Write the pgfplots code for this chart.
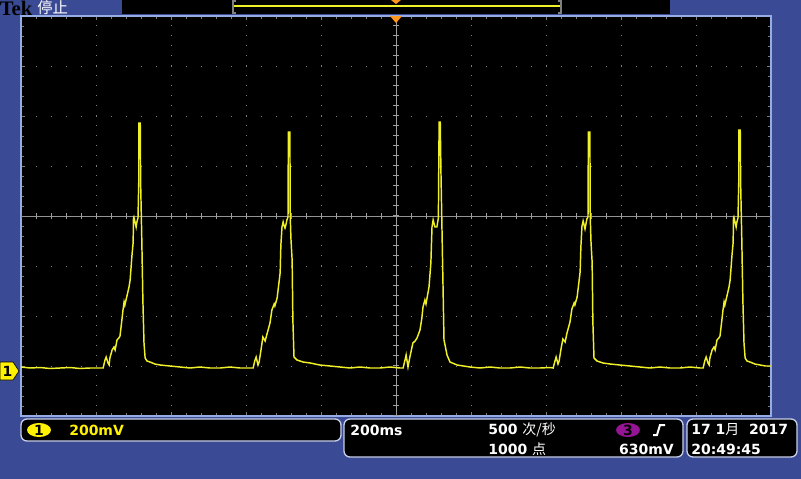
\documentclass[border=0pt]{standalone}
\usepackage{fontspec}
\usepackage{pgfplots}
\pgfplotsset{compat=1.18}
\setmainfont{DejaVu Sans}
\newfontfamily\cjk{Noto Sans CJK SC}
\newfontfamily\tekfont{Liberation Serif}

\definecolor{tekblue}{RGB}{59,74,148}
\definecolor{frame}{RGB}{150,172,228}
\definecolor{gridc}{RGB}{125,125,125}
\definecolor{trace}{RGB}{240,240,40}
\definecolor{trig}{RGB}{255,150,30}
\definecolor{ch3}{RGB}{150,20,150}
\definecolor{boxline}{RGB}{200,208,232}

\begin{document}
\begin{tikzpicture}[x=0.75pt, y=-0.75pt, every node/.style={inner sep=0pt},
  font=\bfseries\fontsize{10.5}{12}\selectfont]
\fill[tekblue] (0,0) rectangle (801,479);
\useasboundingbox (0,0) rectangle (801,479);

% record view strip at the top
\fill[black] (122,0) rectangle (670,14);
\draw[trace, line width=1pt] (233,6) -- (561,6);
\draw[gray, line width=1.5pt] (236,0.5) -- (233,0.5) -- (233,13) -- (236,13);
\draw[gray, line width=1.5pt] (558,0.5) -- (561,0.5) -- (561,13) -- (558,13);
\fill[trig] (391,0) -- (401,0) -- (396,4) -- cycle;

\node[anchor=west, font=\tekfont\bfseries\fontsize{15.5}{15.5}\selectfont] at (-0.5,8) {Tek};
\node[anchor=west, text=white, font=\cjk\fontsize{11.5}{12}\selectfont] at (37,8) {停止};

\begin{axis}[at={(15.75pt,-312pt)}, anchor=south west, scale only axis,
  width=562.5pt, height=300pt,
  xmin=-1000, xmax=1000, ymin=-176, ymax=1424,
  xtick={-1000,-800,...,1000}, ytick={-176,24,...,1424},
  minor x tick num=4, minor y tick num=4,
  xticklabel=\empty, yticklabel=\empty,
  tick label style={opacity=0},
  tick align=inside, major tick length=3pt, minor tick length=2pt,
  tick style={gridc, line width=0.75pt},
  axis line style={frame, line width=1pt},
  axis background/.style={fill=black},
  grid=major,
  major x grid style={gridc, line width=0.75pt, dash pattern=on 0.75pt off 6.75pt},
  major y grid style={gridc, line width=0.75pt, dash pattern=on 0.75pt off 10.5pt}]
% centre graticule lines
\draw[gray!75, line width=0.75pt] (axis cs:0,-176) -- (axis cs:0,1424);
\draw[gray!85, line width=0.75pt] (axis cs:-1000,624) -- (axis cs:1000,624);
\draw[gray!75, line width=4.5pt, dash pattern=on 0.75pt off 6.75pt] (axis cs:0,-176) -- (axis cs:0,1424);
\draw[gray!75, line width=4.5pt, dash pattern=on 0.75pt off 10.5pt] (axis cs:-1000,624) -- (axis cs:1000,624);

% CH1, time in ms, voltage in mV
\addplot[trace, line width=1.1pt] coordinates {
(-1000,20)(-976,16)(-949,18)(-923,14)(-896,16)(-869,18)(-843,14)(-816,16)(-789,16)(-781,16)
(-776,48)(-773,60)(-768,36)(-765,28)(-763,56)(-757,88)(-752,100)(-749,88)(-744,128)(-739,136)
(-736,144)(-731,208)(-728,248)(-725,280)(-723,268)(-720,288)(-715,320)(-712,340)(-709,368)(-707,408)
(-704,468)(-701,516)(-700,616)(-699,620)(-696,600)(-693,580)(-691,600)(-688,616)(-686,760)(-686,996)
(-682,996)(-681,760)(-678,540)(-675,288)(-672,116)(-669,56)(-664,44)(-656,40)(-643,32)(-629,28)
(-603,24)(-576,20)(-549,16)(-523,20)(-496,16)(-469,16)(-443,20)(-416,16)(-389,16)(-381,16)
(-376,48)(-373,60)(-368,28)(-365,40)(-360,88)(-355,140)(-349,124)(-344,152)(-336,196)(-331,248)
(-325,272)(-323,264)(-317,296)(-309,396)(-307,508)(-304,580)(-301,600)(-299,588)(-296,576)(-293,592)
(-291,608)(-288,620)(-287,960)(-283,960)(-282,620)(-280,528)(-277,448)(-275,208)(-272,60)(-264,48)
(-248,40)(-229,36)(-203,28)(-176,24)(-149,20)(-123,16)(-96,20)(-69,16)(-43,16)(-16,20)(11,16)(19,16)
(24,48)(27,68)(32,20)(37,60)(45,116)(51,124)(56,136)(64,168)(69,216)(72,260)
(77,288)(80,272)(88,340)(93,436)(96,580)(99,608)(101,596)(104,580)(109,580)(113,616)
(115,1000)(118,1000)(120,788)(123,540)(128,128)(136,68)(144,40)(163,28)(197,20)(224,16)
(251,20)(277,16)(304,16)(331,20)(357,16)(384,16)(411,18)(419,16)
(424,44)(427,60)(432,32)(435,44)(440,92)(445,132)(451,120)(456,156)(464,200)(469,252)
(475,276)(477,268)(483,300)(491,400)(493,500)(496,584)(499,604)(501,592)(504,572)(507,596)
(509,612)(512,620)(513,960)(517,960)(518,620)(520,520)(523,440)(525,200)(528,56)(536,44)
(552,36)(571,32)(597,28)(624,24)(651,20)(677,16)(704,20)(731,16)(757,16)(784,20)(811,16)(819,16)
(824,48)(827,60)(832,36)(835,28)(837,56)(843,88)(848,100)(851,88)(856,128)(861,136)
(864,144)(869,208)(872,248)(875,280)(877,268)(880,288)(885,320)(888,340)(891,368)(893,408)
(896,468)(899,516)(900,616)(901,620)(904,600)(907,580)(909,600)(912,616)(914,760)(914,968)
(918,968)(919,760)(922,540)(925,288)(928,116)(931,56)(936,44)(944,40)(957,32)(971,28)(985,24)(1000,24)
};
\end{axis}

% trigger position marker
\fill[trig] (390,16) -- (402,16) -- (396,23) -- cycle;

% channel 1 ground marker
\filldraw[fill=yellow, draw=black, line width=0.5pt] (0,362) -- (13,362) -- (19,371) -- (13,380) -- (0,380) -- cycle;
\node[text=black] at (7.5,371) {1};

% status boxes
\draw[boxline, fill=black, line width=1pt, rounded corners=4.5pt] (21,419) rectangle (341,441);
\draw[boxline, fill=black, line width=1pt, rounded corners=4.5pt] (344,419) rectangle (683,457);
\draw[boxline, fill=black, line width=1pt, rounded corners=4.5pt] (687,419) rectangle (797,457);

\fill[yellow] (39,430) ellipse [x radius=9pt, y radius=5.25pt];
\node[text=black] at (39,430) {1};
\node[anchor=west, text=yellow] at (69,430) {200mV};

\node[anchor=west, text=white] at (350,430) {200ms};
\node[anchor=west, text=white] at (488,430) {500 {\cjk\mdseries 次/秒}};
\node[anchor=west, text=white] at (488,449) {1000 {\cjk\mdseries 点}};
\fill[ch3] (628,430) ellipse [x radius=9pt, y radius=5.25pt];
\node[text=black] at (628,430) {3};
\draw[white, line width=1.5pt] (653,435) -- (657,435) -- (660,425) -- (665,425);
\node[anchor=east, text=white] at (674,449) {630mV};

\node[anchor=west, text=white] at (691,430) {17 1{\cjk\mdseries 月}\ \ 2017};
\node[anchor=west, text=white] at (691,449) {20:49:45};
\end{tikzpicture}
\end{document}
